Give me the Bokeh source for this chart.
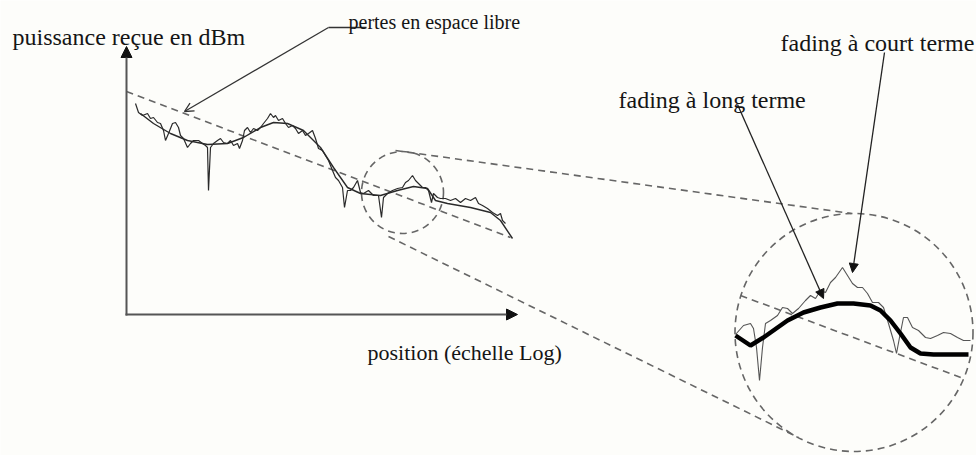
from bokeh.plotting import figure
from bokeh.models import Range1d, Arrow, NormalHead, OpenHead, Label
from bokeh.embed import file_html
from bokeh.resources import INLINE

# ---------------- data (diagram coordinates, position vs received power) ----------------
# noisy received signal (short-term fading) in main chart
signal_x = [135, 138, 142, 147, 150, 153, 157, 160, 163, 165, 168, 172, 175, 178, 180, 183, 187, 190,
            193, 198, 202, 205, 207, 208, 210, 213, 217, 220, 223, 227, 230, 233, 237, 239, 242, 244,
            247, 250, 253, 257, 260, 263, 267, 270, 273, 275, 278, 282, 285, 288, 292, 295, 298, 302,
            305, 308, 312, 315, 318, 322, 325, 328, 332, 335, 338, 342, 344, 347, 350, 353, 357, 360,
            363, 368, 373, 378, 381, 383, 387, 392, 397, 402, 405, 408, 412, 415, 418, 422, 425, 428,
            431, 433, 437, 440, 445, 450, 455, 460, 465, 470, 475, 478, 482, 487, 492, 497, 500, 502, 505]
signal_y = [103, 112, 115, 113, 118, 117, 122, 123, 130, 140, 133, 123, 122, 127, 135, 138, 147, 143,
            140, 140, 143, 145, 147, 190, 147, 143, 140, 138, 142, 143, 140, 145, 143, 148, 140, 130,
            127, 132, 128, 130, 127, 123, 118, 113, 117, 115, 120, 118, 123, 127, 125, 128, 133, 130,
            135, 133, 130, 138, 148, 150, 155, 160, 170, 177, 180, 187, 207, 190, 190, 187, 180, 192,
            193, 190, 195, 195, 217, 197, 193, 190, 188, 187, 182, 180, 175, 180, 183, 187, 187, 190,
            202, 193, 197, 198, 198, 200, 198, 202, 198, 200, 197, 203, 205, 208, 212, 215, 213, 220, 223]

# long-term fading (smoothed) in main chart
trend_x = [140, 153, 170, 187, 207, 227, 243, 260, 273, 287, 303, 320, 333, 347, 360, 380, 397, 413,
           427, 435, 447, 470, 490, 500, 512]
trend_y = [113, 123, 133, 140, 144, 143, 137, 127, 122, 123, 130, 147, 167, 187, 193, 195, 190, 186,
           188, 200, 203, 207, 212, 220, 238]

# free-space path loss (straight dashed line)
free_x = [126, 510]
free_y = [91, 237]

# zoomed region
zoom_signal_x = [735, 743, 750, 753, 756, 759, 762, 765, 770, 777, 782, 787, 792, 798, 805, 810, 815,
                 820, 825, 830, 835, 842, 847, 852, 857, 862, 867, 872, 878, 883, 888, 893, 896, 899,
                 903, 907, 912, 918, 925, 930, 937, 943, 950, 957, 963, 970]
zoom_signal_y = [334, 325, 323, 328, 347, 380, 347, 323, 320, 315, 307, 308, 313, 308, 300, 295, 298,
                 290, 292, 282, 277, 267, 275, 283, 287, 287, 293, 302, 302, 307, 323, 340, 353, 337,
                 317, 317, 327, 330, 337, 338, 335, 332, 333, 337, 340, 340]
zoom_trend_x = [735, 750, 763, 787, 803, 820, 837, 853, 870, 880, 890, 900, 910, 920, 933, 968]
zoom_trend_y = [335, 345, 337, 320, 312, 307, 303, 303, 305, 310, 320, 333, 347, 353, 354, 354]
zoom_free_x = [740, 963]
zoom_free_y = [295, 378]

# circles: small (zoomed area) and large (magnified view)
circle_x = [402, 853.5]
circle_y = [192, 332]
circle_r = [41, 119]

# tangent (projection) lines from small to large circle
proj_top_x = [395, 851]
proj_top_y = [150, 213]
proj_bot_x = [388, 798]
proj_bot_y = [236, 437]

# axes
axis_origin = (126, 314)
axis_y_top = 46
axis_x_right = 517

# labels
label_text = ["puissance reçue en dBm", "pertes en espace libre", "fading à court terme",
              "fading à long terme", "position (échelle Log)"]
label_x = [12, 348, 780, 618, 367]
label_y = [36, 21, 42, 99, 352]
label_size = ["24px", "20px", "24px", "24px", "22px"]

# leader / annotation arrows
pertes_under_x = [328, 366]
pertes_under_y = [27, 27]
pertes_arrow = (328, 27, 184, 111)
long_arrow = (737, 104, 823, 298)
court_arrow = (884, 52, 852, 272)

# ---------------- figure ----------------
BG = "#fdfdfa"
W, H = 976, 455
p = figure(width=W, height=H, x_range=Range1d(0, W), y_range=Range1d(H, 0),
           output_backend="svg", toolbar_location=None, min_border=0,
           x_axis_location=None, y_axis_location=None,
           background_fill_color=BG, border_fill_color=BG)
p.grid.visible = False
p.outline_line_color = None

DASH = "7 5"
GRAY = "#666666"

# dashed geometry
p.line(free_x, free_y, line_color=GRAY, line_width=1.6, line_dash=DASH)
p.line(zoom_free_x, zoom_free_y, line_color=GRAY, line_width=1.6, line_dash=DASH)
p.line(proj_top_x, proj_top_y, line_color=GRAY, line_width=1.6, line_dash=DASH)
p.line(proj_bot_x, proj_bot_y, line_color=GRAY, line_width=1.6, line_dash=DASH)
p.circle(x=circle_x, y=circle_y, radius=circle_r, fill_color=None, line_color=GRAY,
         line_width=1.6, line_dash=DASH)

# signals
p.line(signal_x, signal_y, line_color="#2a2a2a", line_width=1.2)
p.line(trend_x, trend_y, line_color="#2a2a2a", line_width=1.4)
p.line(zoom_signal_x, zoom_signal_y, line_color="#555555", line_width=1.1)
p.line(zoom_trend_x, zoom_trend_y, line_color="#000000", line_width=4.5)

# axes
AX = "#555555"
p.add_layout(Arrow(end=NormalHead(size=11, fill_color="#111111", line_color="#111111"),
                   x_start=axis_origin[0], y_start=axis_origin[1] + 1,
                   x_end=axis_origin[0], y_end=axis_y_top, line_color=AX, line_width=2))
p.add_layout(Arrow(end=NormalHead(size=11, fill_color="#111111", line_color="#111111"),
                   x_start=axis_origin[0] - 1, y_start=axis_origin[1],
                   x_end=axis_x_right, y_end=axis_origin[1], line_color=AX, line_width=2))

# leaders
p.line(pertes_under_x, pertes_under_y, line_color="#333333", line_width=1.3)
p.add_layout(Arrow(end=OpenHead(size=9, line_color="#333333", line_width=1.3),
                   x_start=pertes_arrow[0], y_start=pertes_arrow[1],
                   x_end=pertes_arrow[2], y_end=pertes_arrow[3], line_color="#333333", line_width=1.3))
for a in (long_arrow, court_arrow):
    p.add_layout(Arrow(end=NormalHead(size=9, fill_color="#111111", line_color="#111111"),
                       x_start=a[0], y_start=a[1], x_end=a[2], y_end=a[3],
                       line_color="#222222", line_width=1.3))

for t, x, y, s in zip(label_text, label_x, label_y, label_size):
    p.add_layout(Label(x=x, y=y, text=t, text_font="Liberation Serif", text_font_size=s,
                       text_color="#151515", text_baseline="alphabetic", text_align="left"))

open("out.html", "w").write(file_html(p, INLINE))
